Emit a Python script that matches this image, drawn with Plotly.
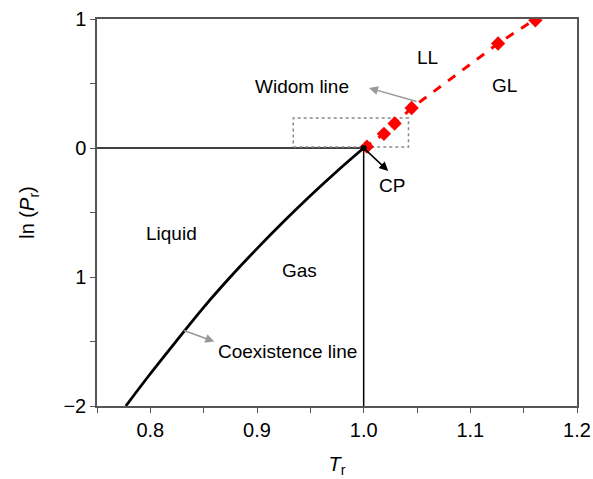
import plotly.graph_objects as go

# Coexistence line
coex_T = [0.777, 0.80, 0.825, 0.85, 0.875, 0.90, 0.925, 0.95, 0.975, 1.0]
coex_lnP = [-2.0, -1.75, -1.49, -1.235, -1.0, -0.78, -0.57, -0.37, -0.18, 0.0]

# Widom line (red dashed) and markers
widom_T = [1.0, 1.019, 1.029, 1.045, 1.126, 1.161]
widom_lnP = [0.0, 0.11, 0.19, 0.31, 0.81, 1.0]
marker_T = [1.003, 1.019, 1.029, 1.045, 1.126, 1.161]
marker_lnP = [0.01, 0.11, 0.19, 0.31, 0.81, 0.99]

# Reference lines
hline_T = [0.75, 1.0]
hline_lnP = [0.0, 0.0]
vline_T = [1.0, 1.0]
vline_lnP = [-2.0, 0.0]

# Dotted box
box_T = [0.934, 1.042, 1.042, 0.934, 0.934]
box_lnP = [0.008, 0.008, 0.233, 0.233, 0.008]

y_tickvals = [1, 0, -1, -2]
y_ticktext = ["1", "0", "1", "\u22122"]
x_tickvals = [0.8, 0.9, 1.0, 1.1, 1.2]
x_ticktext = ["0.8", "0.9", "1.0", "1.1", "1.2"]

FONT = "Liberation Sans, Arial, sans-serif"

fig = go.Figure()
fig.add_trace(go.Scatter(x=hline_T, y=hline_lnP, mode="lines",
                         line=dict(color="black", width=1.5), showlegend=False))
fig.add_trace(go.Scatter(x=vline_T, y=vline_lnP, mode="lines",
                         line=dict(color="black", width=1.5), showlegend=False))
fig.add_trace(go.Scatter(x=box_T, y=box_lnP, mode="lines",
                         line=dict(color="#888888", width=1.5, dash="dot"), showlegend=False))
fig.add_trace(go.Scatter(x=coex_T, y=coex_lnP, mode="lines",
                         line=dict(color="black", width=2.8, shape="spline"), showlegend=False))
fig.add_trace(go.Scatter(x=widom_T, y=widom_lnP, mode="lines",
                         line=dict(color="#ff0000", width=3, dash="dash"), showlegend=False))
fig.add_trace(go.Scatter(x=marker_T, y=marker_lnP, mode="markers",
                         marker=dict(color="#ff0000", symbol="diamond", size=11), showlegend=False))
fig.add_trace(go.Scatter(x=[1.0], y=[0.0], mode="markers",
                         marker=dict(color="black", size=6), showlegend=False))

texts = [
    ("LL", 1.060, 0.705),
    ("GL", 1.132, 0.488),
    ("Widom line", 0.942, 0.473),
    ("CP", 1.027, -0.287),
    ("Liquid", 0.82, -0.66),
    ("Gas", 0.94, -0.946),
    ("Coexistence line", 0.929, -1.58),
]
for t, x, y in texts:
    fig.add_annotation(x=x, y=y, text=t, showarrow=False,
                       font=dict(family=FONT, size=19, color="black"))

arrows = [
    # head x, head y, tail x, tail y, color
    (1.005, 0.465, 1.051, 0.357, "#999999"),
    (1.023, -0.178, 1.0, 0.0, "black"),
    (0.860, -1.50, 0.830, -1.41, "#999999"),
]
for hx, hy, tx, ty, c in arrows:
    fig.add_annotation(x=hx, y=hy, ax=tx, ay=ty, xref="x", yref="y",
                       axref="x", ayref="y", text="", showarrow=True,
                       arrowhead=2, arrowsize=1.2, arrowwidth=1.5, arrowcolor=c)

fig.update_layout(
    width=593, height=479,
    margin=dict(l=97, r=16, t=19, b=73),
    plot_bgcolor="white", paper_bgcolor="white",
    font=dict(family=FONT, size=20, color="black"),
    showlegend=False,
)
fig.update_xaxes(
    range=[0.75, 1.2], tickvals=x_tickvals, ticktext=x_ticktext, automargin=False,
    showgrid=False, zeroline=False, showline=True, linecolor="#555555", linewidth=1.5,
    mirror=True, ticks="outside", ticklen=5, tickwidth=1.2, tickcolor="#555555",
    minor=dict(tickvals=[0.75, 0.85, 0.95, 1.05, 1.15], ticks="outside", ticklen=5,
               tickwidth=1.2, tickcolor="#555555"),
    title=dict(text="<i>T</i><sub>r</sub>", font=dict(size=20), standoff=17),
    tickfont=dict(size=20),
)
fig.update_yaxes(
    range=[-2, 1], tickvals=y_tickvals, ticktext=y_ticktext, automargin=False,
    showgrid=False, zeroline=False, showline=True, linecolor="#555555", linewidth=1.5,
    mirror=True, ticks="outside", ticklen=5, tickwidth=1.2, tickcolor="#555555",
    minor=dict(tickvals=[0.5, -0.5, -1.5], ticks="outside", ticklen=5,
               tickwidth=1.2, tickcolor="#555555"),
    title=dict(text="ln (<i>P</i><sub>r</sub>)", font=dict(size=20), standoff=23),
    tickfont=dict(size=20),
)

fig.write_html("out.html")
